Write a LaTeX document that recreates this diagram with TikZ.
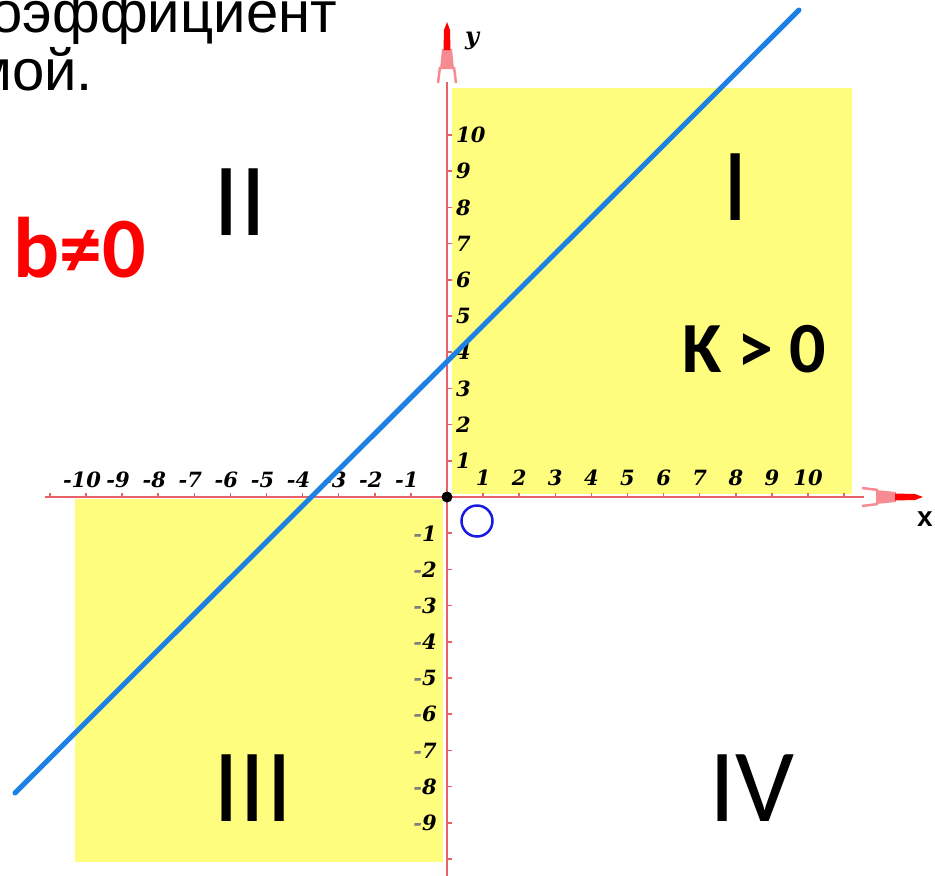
\documentclass[tikz,border=0pt]{standalone}
\usepackage{fontspec}
\setmainfont{Liberation Sans}
\newfontfamily\calfont{Carlito}
\newfontfamily\tickfont{DejaVu Serif}
\definecolor{qyellow}{RGB}{255,253,125}
\definecolor{axisred}{RGB}{232,96,104}
\definecolor{axispink}{RGB}{246,140,146}
\definecolor{lineblue}{RGB}{28,128,228}
\definecolor{circblue}{RGB}{25,25,230}
\definecolor{bred}{RGB}{255,0,0}
\tikzset{
  quad/.style={fill=qyellow, draw=none},
  axisline/.style={draw=axisred, line width=2pt},
  tickmark/.style={draw=axisred, line width=1.5pt},
  ticklab/.style={inner sep=0pt, font=\tickfont\bfseries\itshape\fontsize{21}{21}\selectfont},
  roman/.style={inner sep=0pt, font=\calfont\fontsize{104}{104}\selectfont},
  fancyarrow/.pic={
    \fill[axispink] (-47,-7) -- (-27,-5) -- (-27,5) -- (-47,7) -- cycle;
    \draw[axispink, line width=2.5pt] (-45,-7) -- (-61,-9);
    \draw[axispink, line width=2.5pt] (-45,7) -- (-61,9);
    \fill[bred] (-28,-3.5) -- (-8,-3) -- (0,0) -- (-8,3) -- (-28,3.5) -- cycle;
  }
}
\begin{document}
\begin{tikzpicture}[x=1pt,y=-1pt]
\useasboundingbox (0,0) rectangle (935,876);
% quadrants
\fill[quad] (452,88) rectangle (852,494);
\fill[quad] (75,499) rectangle (443,862);
% axes
\draw[axisline] (45,497) -- (864,497);
\draw[axisline] (447,876) -- (447,82);
\pic at (923,497) {fancyarrow};
\pic[rotate=90] at (447,22) {fancyarrow};
% ticks
\foreach \i in {-11,...,-1,1,2,...,11}
  \draw[tickmark] ({447+36.1*\i},493) -- ++(0,5);
\foreach \i in {-10,...,-1,1,2,...,10}
  \draw[tickmark] (447,{497-36.2*\i}) -- ++(5,0);
% tick labels
\foreach \i in {1,...,10}
  \node[ticklab] (xp\i) at ({447+36.1*\i},478) {\i};
\foreach \i in {1,...,10}
  \node[ticklab] (xn\i) at ({447-36.1*\i-4},480) {-\i};
\foreach \i in {1,...,10}
  \node[ticklab, anchor=west] (yp\i) at (456,{497-36.2*\i}) {\i};
\foreach \i in {1,...,9}
  \node[ticklab, anchor=east] (yn\i) at (437,{497+36.2*\i}) {{\color{gray}-}\i};
% axis names
\node[inner sep=0pt, font=\tickfont\bfseries\itshape\fontsize{24}{24}\selectfont] (ylab) at (472,41) {y};
\node[inner sep=0pt, font=\bfseries\fontsize{28}{28}\selectfont] (xlab) at (925,519) {x};
% graph line
\draw[lineblue, line width=5pt, line cap=round] (15,793) -- (799,10);
% origin
\fill[black] (447,497) circle (5.5);
\node[draw=circblue, line width=2.5pt, circle, minimum size=31pt, inner sep=0pt] (o) at (477,521) {};
% quadrant numerals
\node[roman] (q2) at (240,202) {II};
\node[roman] (q1) at (736,187) {I};
\node[roman] (q3) at (253,788) {III};
\node[roman] (q4) at (752,788) {IV};
% labels
\node[inner sep=0pt, anchor=base west, text=bred, font=\calfont\bfseries\fontsize{86}{86}\selectfont] (b) at (13,277) {b≠0};
\node[inner sep=0pt, anchor=base west, font=\calfont\bfseries\fontsize{72}{72}\selectfont] (k) at (682,372) {K > 0};
% top-left text
\node[inner sep=0pt, anchor=base east, font=\fontsize{58}{58}\selectfont] (t1) at (337,32) {оэффициент};
\node[inner sep=0pt, anchor=base east, font=\fontsize{58}{58}\selectfont] (t2) at (93,90) {мой.};
\end{tikzpicture}
\end{document}
